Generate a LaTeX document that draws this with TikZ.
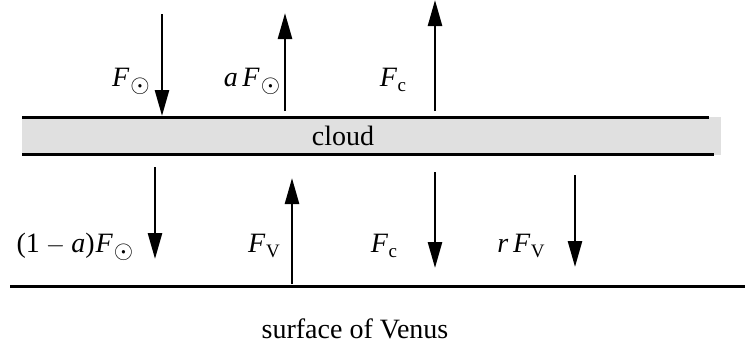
\documentclass[tikz,border=0pt]{standalone}
\usepackage{fontspec}
\setmainfont{Liberation Serif}
\usetikzlibrary{arrows.meta}
\tikzset{
  flux/.style={line width=2.5pt,-{Triangle[length=26pt,width=14pt]}},
  lbl/.style={font=\fontsize{28}{34}\selectfont,inner sep=0pt,anchor=base},
  edge/.style={line width=3pt},
}
\newcommand{\Fs}[1]{\textit{F}\kern0.5pt\raisebox{-5pt}{\fontsize{19}{22}\selectfont #1}}
\newcommand{\Fsun}{\textit{F}\kern1pt\raisebox{-6.5pt}{\fontsize{24}{28}\selectfont$\odot$}}
\begin{document}
\begin{tikzpicture}[x=1pt,y=-1pt]
\useasboundingbox (0,0) rectangle (745,349);
% cloud
\fill[fill=black!12] (22,117) rectangle (721,155);
\node[lbl] (cloud) at (343,145) {cloud};
\coordinate (ct1) at (22,117); \coordinate (ct2) at (709,117);
\coordinate (cb1) at (22,154); \coordinate (cb2) at (714,154);
\draw[edge] (ct1) -- (ct2);
\draw[edge] (cb1) -- (cb2);
% ground
\coordinate (g1) at (10,286); \coordinate (g2) at (745,286);
\draw[edge] (g1) -- (g2);
\node[lbl] (surf) at (355,338) {surface of Venus};
% top arrows
\coordinate (a1s) at (162,14); \coordinate (a1e) at (162,116);
\coordinate (a2s) at (285,111); \coordinate (a2e) at (285,13);
\coordinate (a3s) at (435,111); \coordinate (a3e) at (435,0);
\draw[flux] (a1s) -- (a1e);
\draw[flux] (a2s) -- (a2e);
\draw[flux] (a3s) -- (a3e);
\node[lbl] (l1) at (131,86) {\Fsun};
\node[lbl] (l2) at (252,86) {\textit{a}\,\Fsun};
\node[lbl] (l3) at (393,86) {\Fs{c}};
% bottom arrows
\coordinate (b1s) at (155,167); \coordinate (b1e) at (155,259);
\coordinate (b2s) at (292,284); \coordinate (b2e) at (292,178);
\coordinate (b3s) at (435,172); \coordinate (b3e) at (435,268);
\coordinate (b4s) at (575,175); \coordinate (b4e) at (575,267);
\draw[flux] (b1s) -- (b1e);
\draw[flux] (b2s) -- (b2e);
\draw[flux] (b3s) -- (b3e);
\draw[flux] (b4s) -- (b4e);
\node[lbl] (l4) at (75,252) {(1\hspace{6pt}$-$\hspace{6pt}\textit{a})\kern1pt\Fsun};
\node[lbl] (l5) at (264,252) {\Fs{V}};
\node[lbl] (l6) at (384,252) {\Fs{c}};
\node[lbl] (l7) at (521,252) {\textit{r}\,\Fs{V}};
\end{tikzpicture}
\end{document}
